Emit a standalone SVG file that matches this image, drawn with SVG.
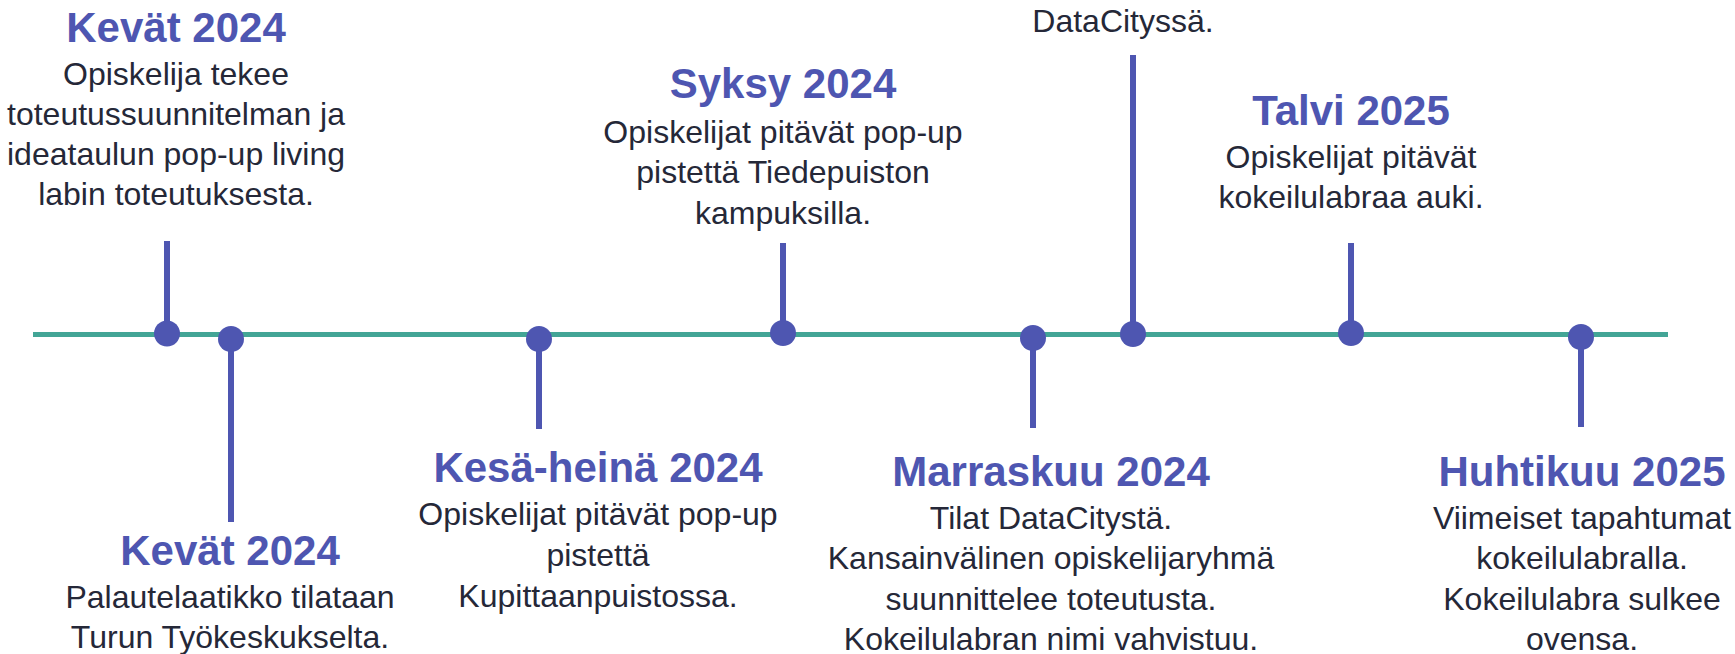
<svg xmlns="http://www.w3.org/2000/svg" width="1735" height="654" viewBox="0 0 1735 654">
<style>
.title{font-family:"Liberation Sans",Arial,sans-serif;font-weight:bold;font-size:42px;fill:#4E56B1;text-anchor:middle}
.body{font-family:"Liberation Sans",Arial,sans-serif;font-size:32px;fill:#252838;text-anchor:middle}
.stem{stroke:#4E56B1;stroke-width:6;fill:none}
.dot{fill:#4E56B1}
</style>
<rect width="1735" height="654" fill="#ffffff"/>
<g id="connectors">
<line x1="33" y1="334.5" x2="1668" y2="334.5" stroke="#43A596" stroke-width="5"/>
<line class="stem" x1="167" y1="241" x2="167" y2="333"/>
<line class="stem" x1="231" y1="339" x2="231" y2="522"/>
<line class="stem" x1="539" y1="339" x2="539" y2="429"/>
<line class="stem" x1="783" y1="243" x2="783" y2="333"/>
<line class="stem" x1="1033" y1="338" x2="1033" y2="428"/>
<line class="stem" x1="1133" y1="55" x2="1133" y2="334"/>
<line class="stem" x1="1351" y1="243" x2="1351" y2="333"/>
<line class="stem" x1="1581" y1="337" x2="1581" y2="427"/>
</g>
<g id="node-kevat-1">
<circle class="dot" cx="167" cy="333.5" r="13"/>
<text class="title" x="176" y="42">Kevät 2024</text>
<text class="body" x="176" y="85">Opiskelija tekee</text>
<text class="body" x="176" y="125">toteutussuunnitelman ja</text>
<text class="body" x="176" y="165">ideataulun pop-up living</text>
<text class="body" x="176" y="205">labin toteutuksesta.</text>
</g>
<g id="node-kevat-2">
<circle class="dot" cx="231" cy="339" r="13"/>
<text class="title" x="230" y="565">Kevät 2024</text>
<text class="body" x="230" y="608">Palautelaatikko tilataan</text>
<text class="body" x="230" y="648">Turun Työkeskukselta.</text>
</g>
<g id="node-kesa">
<circle class="dot" cx="539" cy="339" r="13"/>
<text class="title" x="598" y="482">Kesä-heinä 2024</text>
<text class="body" x="598" y="525">Opiskelijat pitävät pop-up</text>
<text class="body" x="598" y="566">pistettä</text>
<text class="body" x="598" y="607">Kupittaanpuistossa.</text>
</g>
<g id="node-syksy">
<circle class="dot" cx="783" cy="333" r="13"/>
<text class="title" x="783" y="98">Syksy 2024</text>
<text class="body" x="783" y="143">Opiskelijat pitävät pop-up</text>
<text class="body" x="783" y="183">pistettä Tiedepuiston</text>
<text class="body" x="783" y="224">kampuksilla.</text>
</g>
<g id="node-marraskuu">
<circle class="dot" cx="1033" cy="338" r="13"/>
<text class="title" x="1051" y="486">Marraskuu 2024</text>
<text class="body" x="1051" y="529">Tilat DataCitystä.</text>
<text class="body" x="1051" y="569">Kansainvälinen opiskelijaryhmä</text>
<text class="body" x="1051" y="610">suunnittelee toteutusta.</text>
<text class="body" x="1051" y="650">Kokeilulabran nimi vahvistuu.</text>
</g>
<g id="node-datacity">
<circle class="dot" cx="1133" cy="334" r="13"/>
<text class="body" x="1123" y="32">DataCityssä.</text>
</g>
<g id="node-talvi">
<circle class="dot" cx="1351" cy="333" r="13"/>
<text class="title" x="1351" y="125">Talvi 2025</text>
<text class="body" x="1351" y="168">Opiskelijat pitävät</text>
<text class="body" x="1351" y="208">kokeilulabraa auki.</text>
</g>
<g id="node-huhtikuu">
<circle class="dot" cx="1581" cy="337" r="13"/>
<text class="title" x="1582" y="486">Huhtikuu 2025</text>
<text class="body" x="1582" y="529">Viimeiset tapahtumat</text>
<text class="body" x="1582" y="569">kokeilulabralla.</text>
<text class="body" x="1582" y="610">Kokeilulabra sulkee</text>
<text class="body" x="1582" y="650">ovensa.</text>
</g>
</svg>
